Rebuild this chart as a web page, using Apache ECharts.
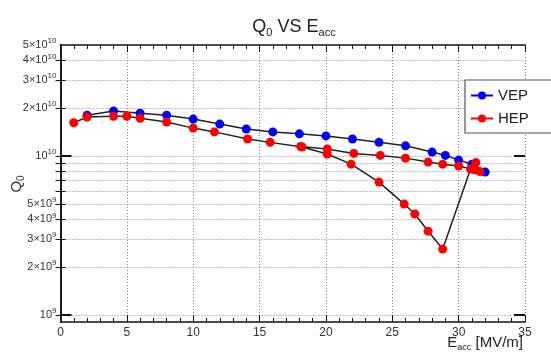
<!DOCTYPE html>
<html>
<head>
<meta charset="utf-8">
<script src="https://cdn.jsdelivr.net/npm/echarts@6/dist/echarts.min.js"></script>
<style>
html, body { margin: 0; padding: 0; background: #fff; }
#main { width: 551px; height: 353px; }
</style>
</head>
<body>
<div id="main"></div>
<script>
// VEP: E_acc [MV/m] and Q0
var vepE = [2, 4, 6, 8, 10, 12, 14, 16, 18, 20, 22, 24, 26, 28, 29, 30, 31, 32];
var vepQ = [1.81e10, 1.92e10, 1.86e10, 1.81e10, 1.71e10, 1.59e10, 1.48e10, 1.42e10, 1.38e10,
            1.34e10, 1.28e10, 1.22e10, 1.16e10, 1.06e10, 1.01e10, 9.44e9, 8.9e9, 7.93e9];

// HEP: ramp up (with the drop near 29 MV/m), then the way back down
var hepE = [1, 2, 4, 5, 6, 8, 10, 11.6, 14.1, 15.8, 18.2, 20.1, 21.9, 24, 25.9, 26.7, 27.7, 28.8,
            30.9, 31.3, 31.6, 31.2, 30, 28.8, 27.7, 26, 24.1, 22.1, 20.1, 18.1];
var hepQ = [1.62e10, 1.76e10, 1.78e10, 1.78e10, 1.73e10, 1.64e10, 1.5e10, 1.42e10, 1.28e10, 1.22e10,
            1.14e10, 1.03e10, 8.9e9, 6.86e9, 4.99e9, 4.32e9, 3.37e9, 2.6e9,
            8.3e9, 9.1e9, 8.0e9, 8.2e9, 8.66e9, 8.9e9, 9.17e9, 9.71e9, 1.01e10, 1.04e10, 1.11e10, 1.15e10];

// axis ticks
var yLabelVals = [1e9, 2e9, 3e9, 4e9, 5e9, 1e10, 2e10, 3e10, 4e10, 5e10];
var yGridVals = [1e9, 2e9, 3e9, 4e9, 5e9, 6e9, 7e9, 8e9, 9e9, 1e10, 2e10, 3e10, 4e10];
var yDecades = [1e9, 1e10];
var yBottom = 9.04e8, yTop = 5e10;

function lg(v) { return Math.log10(v); }
function toPts(xs, qs) {
    var out = [];
    for (var i = 0; i < xs.length; i++) out.push([xs[i], lg(qs[i])]);
    return out;
}

var FONT = 'Liberation Sans';
var myChart = echarts.init(document.getElementById('main'));

var yMin = lg(yBottom), yMax = lg(yTop);
var dotted = { color: '#888', width: 1, type: [1, 2] };

function yLabel(v) {
    var e = Math.floor(v + 1e-9);
    var m = Math.round(Math.pow(10, v - e));
    return (m === 1 ? '' : m + '×') + '10{s|' + e + '}';
}

var option = {
    animation: false,
    backgroundColor: '#fff',
    textStyle: { fontFamily: FONT },
    grid: { left: 60.5, right: 26, top: 45, bottom: 31, containLabel: false, outerBoundsMode: 'none' },
    legend: {
        left: 465, top: 80,
        orient: 'vertical',
        padding: [8, 60, 7, 5],
        itemGap: 8,
        itemWidth: 22, itemHeight: 10,
        backgroundColor: '#fff',
        borderColor: '#555', borderWidth: 1.2,
        textStyle: { fontFamily: FONT, fontSize: 15, color: '#222' },
        data: [
            { name: 'VEP', lineStyle: { color: '#0000ff' } },
            { name: 'HEP', lineStyle: { color: '#ff0000' } }
        ]
    },
    graphic: [
        {
            type: 'text', x: 294, y: 17,
            style: {
                text: 'Q{sub|0} VS E{sub|acc}',
                textAlign: 'center',
                font: '18px ' + FONT, fill: '#222',
                rich: { sub: { fontSize: 11, padding: [10, 0, 0, 0], fill: '#222' } }
            }
        },
        {
            type: 'text', x: 523, y: 334,
            style: {
                text: 'E{sub|acc} [MV/m]',
                textAlign: 'right',
                font: '15px ' + FONT, fill: '#222',
                rich: { sub: { fontSize: 9, padding: [9, 0, 0, 0], fill: '#222' } }
            }
        },
        {
            // y axis title
            type: 'text', x: 17, y: 184, rotation: Math.PI / 2,
            style: {
                text: 'Q{sub|0}',
                textAlign: 'center', textVerticalAlign: 'middle',
                font: '15px ' + FONT, fill: '#333',
                rich: { sub: { fontSize: 10, padding: [9, 0, 0, 0], fill: '#333' } }
            }
        }
    ],
    xAxis: [
        {
            type: 'value', min: 0, max: 35, interval: 5,
            axisLine: { lineStyle: { color: '#111', width: 1.5 } },
            axisTick: { inside: true, length: 7, lineStyle: { color: '#111' } },
            minorTick: { show: true, splitNumber: 5, length: 4, lineStyle: { color: '#111' } },
            axisLabel: { fontSize: 12, color: '#333', margin: 5 },
            splitLine: { show: true, lineStyle: dotted }
        },
        {
            type: 'value', position: 'top', min: 0, max: 35, interval: 5,
            axisLine: { lineStyle: { color: '#111', width: 1.5 } },
            axisTick: { inside: true, length: 7, lineStyle: { color: '#111' } },
            minorTick: { show: true, splitNumber: 5, length: 4, lineStyle: { color: '#111' } },
            axisLabel: { show: false },
            splitLine: { show: false }
        }
    ],
    yAxis: [
        {
            type: 'value', min: yMin, max: yMax,
            axisLine: { lineStyle: { color: '#111', width: 1.5 } },
            axisTick: { inside: true, length: 5, customValues: yGridVals.map(lg), lineStyle: { color: '#111' } },
            axisLabel: {
                customValues: yLabelVals.map(lg),
                formatter: yLabel,
                fontSize: 11, color: '#333', margin: 4,
                rich: { s: { fontSize: 8, padding: [0, 0, 8, 0], color: '#333' } }
            },
            splitLine: { show: true, lineStyle: dotted }
        },
        {
            type: 'value', position: 'right', min: yMin, max: yMax,
            axisLine: { lineStyle: { color: '#111', width: 1.5 } },
            axisTick: { inside: true, length: 5, customValues: yGridVals.map(lg), lineStyle: { color: '#111' } },
            axisLabel: { show: false },
            splitLine: { show: false }
        },
        {
            type: 'value', position: 'left', min: yMin, max: yMax,
            axisLine: { show: false },
            axisTick: { inside: true, length: 11, customValues: yDecades.map(lg), lineStyle: { color: '#111', width: 2 } },
            axisLabel: { show: false },
            splitLine: { show: false }
        },
        {
            type: 'value', position: 'right', min: yMin, max: yMax,
            axisLine: { show: false },
            axisTick: { inside: true, length: 11, customValues: yDecades.map(lg), lineStyle: { color: '#111', width: 2 } },
            axisLabel: { show: false },
            splitLine: { show: false }
        }
    ],
    series: [
        {
            name: 'VEP', type: 'line',
            data: toPts(vepE, vepQ),
            symbol: 'circle', symbolSize: 9,
            itemStyle: { color: '#0000ff' },
            lineStyle: { color: '#222', width: 1.5 },
            z: 3
        },
        {
            name: 'HEP', type: 'line',
            data: toPts(hepE, hepQ),
            symbol: 'circle', symbolSize: 9,
            itemStyle: { color: '#ff0000' },
            lineStyle: { color: '#222', width: 1.5 },
            z: 4
        }
    ]
};

myChart.setOption(option);
</script>
</body>
</html>
